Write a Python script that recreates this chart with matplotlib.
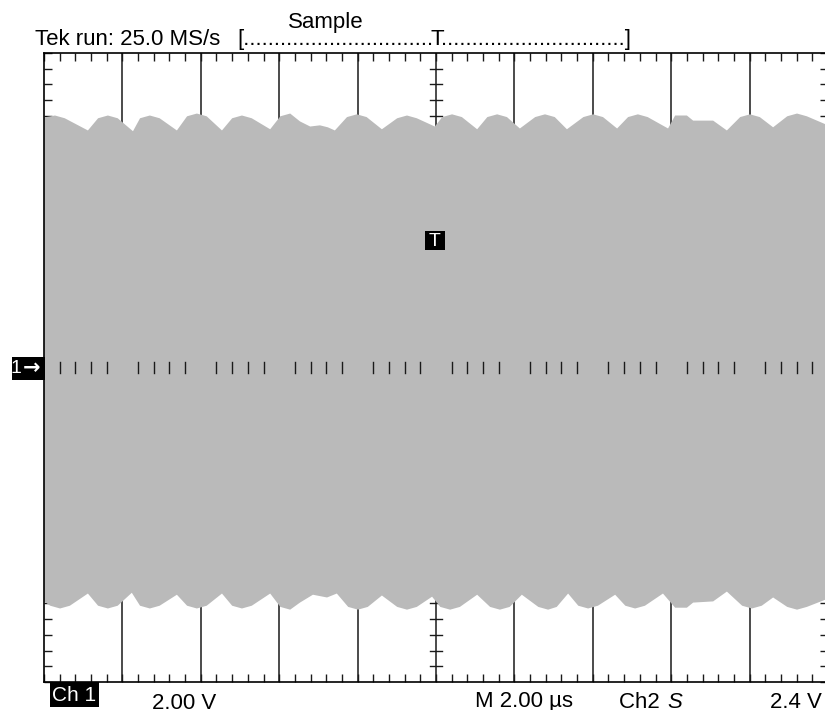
"""
Tela do osciloscopio (Tek) — canal 1 com envoltoria ondulada.

Pontos da envoltoria lidos da imagem: tempo em us a partir da borda
esquerda da tela, tensao em V (2.00 V/div, 2.00 us/div).
"""

import numpy as np
import matplotlib
matplotlib.use("Agg")
import matplotlib.pyplot as plt
from matplotlib.patches import Rectangle

W, H = 825, 710
GRAY = "#bababa"
FONT = ["Liberation Sans", "DejaVu Sans"]

VOLTS_DIV = 2.0       # V/div
TIME_DIV = 2.0        # us/div
N_XDIV, N_YDIV = 10, 8
TRIG_LEVEL = 3.22     # V, marcador "T"

# envoltoria superior (us, V)
t_upper = [0.00, 0.28, 0.53, 1.12, 1.38, 1.63, 1.88, 2.27, 2.45, 2.70,
           2.95, 3.39, 3.65, 3.90, 4.15, 4.54, 4.80, 5.05, 5.30, 5.77,
           6.03, 6.28, 6.53, 6.79, 7.04, 7.24, 7.42, 7.73, 7.98, 8.23,
           8.62, 9.01, 9.26, 9.51, 9.97, 10.16, 10.41, 10.66, 11.05, 11.31,
           11.56, 11.81, 12.14, 12.53, 12.78, 13.03, 13.34, 13.76, 14.01,
           14.26, 14.62, 14.90, 15.15, 15.40, 15.92, 16.10, 16.40, 16.56,
           17.07, 17.42, 17.76, 18.01, 18.26, 18.60, 18.96, 19.21, 19.46,
           20.00]
v_upper = [6.36, 6.41, 6.34, 6.03, 6.34, 6.41, 6.34, 6.01, 6.34, 6.41,
           6.34, 6.03, 6.39, 6.46, 6.39, 6.03, 6.34, 6.41, 6.34, 6.06,
           6.39, 6.46, 6.26, 6.13, 6.16, 6.11, 6.03, 6.37, 6.44, 6.37,
           6.06, 6.34, 6.41, 6.34, 6.13, 6.37, 6.44, 6.37, 6.06, 6.37,
           6.44, 6.37, 6.08, 6.37, 6.44, 6.37, 6.06, 6.37, 6.44,
           6.37, 6.08, 6.37, 6.44, 6.37, 6.08, 6.41, 6.41, 6.28,
           6.28, 6.03, 6.37, 6.44, 6.37, 6.11, 6.39, 6.46, 6.39,
           6.16]

# envoltoria inferior (us, V)
t_lower = [0.00, 0.16, 0.41, 0.66, 1.12, 1.38, 1.63, 1.88, 2.24, 2.45,
           2.70, 2.95, 3.39, 3.65, 3.90, 4.15, 4.54, 4.80, 5.05, 5.30,
           5.77, 6.03, 6.28, 6.53, 6.86, 7.22, 7.47, 7.76, 8.01, 8.26,
           8.62, 9.01, 9.26, 9.51, 9.90, 10.11, 10.36, 10.61, 11.05, 11.38,
           11.63, 11.88, 12.19, 12.61, 12.86, 13.08, 13.37, 13.63, 13.88,
           14.13, 14.57, 14.83, 15.08, 15.33, 15.79, 16.10, 16.40, 16.56,
           17.07, 17.42, 17.81, 18.06, 18.31, 18.60, 18.96, 19.21, 19.46,
           20.00]
v_lower = [-5.95, -6.06, -6.13, -6.06, -5.75, -6.06, -6.13, -6.06, -5.73,
           -6.06, -6.13, -6.06, -5.78, -6.06, -6.13, -6.06, -5.75, -6.06,
           -6.13, -6.06, -5.75, -6.09, -6.16, -5.98, -5.78, -5.85, -5.75,
           -6.09, -6.16, -6.09, -5.80, -6.09, -6.16, -6.09, -5.83, -6.09,
           -6.16, -6.09, -5.78, -6.09, -6.16, -6.09, -5.78, -6.09, -6.16,
           -6.09, -5.75, -6.06, -6.13, -6.06, -5.78, -6.06, -6.13, -6.06,
           -5.75, -6.11, -6.11, -5.98, -5.95, -5.70, -6.06, -6.13, -6.06,
           -5.85, -6.09, -6.16, -6.09, -5.88]


def fx(px):
    return px / W


def fy(py):
    return 1 - py / H


def fig_box(fig, x0, y0, x1, y1):
    fig.add_artist(Rectangle((fx(x0), fy(y1)), fx(x1) - fx(x0),
                             fy(y0) - fy(y1), transform=fig.transFigure,
                             facecolor="black", edgecolor="none"))


def main():
    plt.rcParams["font.family"] = FONT
    fig = plt.figure(figsize=(W / 100, H / 100), dpi=100)
    ax = fig.add_axes([fx(44), fy(682), fx(828) - fx(44), fy(53) - fy(682)])

    xmax = N_XDIV * TIME_DIV
    ymax = N_YDIV / 2 * VOLTS_DIV
    ax.set_xlim(0, xmax)
    ax.set_ylim(-ymax, ymax)

    # graticula: linhas verticais por divisao (abaixo do traco)
    for xv in np.arange(TIME_DIV, xmax, TIME_DIV):
        ax.axvline(xv, color="#1a1a1a", linewidth=1.1, zorder=0.8)

    # marcas do eixo vertical central
    xc = xmax / 2
    for yv in np.arange(-ymax + 0.4, ymax, 0.4):
        ax.plot([xc - 0.15, xc + 0.15], [yv, yv], color="#1a1a1a",
                linewidth=1.0, zorder=0.8)

    # traco (envoltoria)
    t = np.union1d(t_upper, t_lower)
    ax.fill_between(t, np.interp(t, t_lower, v_lower),
                    np.interp(t, t_upper, v_upper),
                    facecolor=GRAY, edgecolor="none", zorder=1)

    # marcas do eixo horizontal central (sobre o traco)
    for xv in np.arange(0.4, xmax, 0.4):
        if abs(xv / TIME_DIV - round(xv / TIME_DIV)) < 1e-6:
            continue
        ax.plot([xv, xv], [-0.15, 0.15], color="#1a1a1a", linewidth=1.0,
                zorder=3)

    # marcador de trigger
    ax.add_patch(Rectangle((xc - 0.27, TRIG_LEVEL - 0.24), 0.49, 0.48,
                           facecolor="black", edgecolor="none", zorder=4))
    ax.text(xc - 0.025, TRIG_LEVEL - 0.01, "T", color="white", fontsize=14,
            ha="center", va="center", zorder=5)

    ax.set_xticks(np.arange(0, xmax + 0.01, TIME_DIV))
    ax.set_yticks(np.arange(-ymax, ymax + 0.01, VOLTS_DIV))
    ax.set_xticks(np.arange(0, xmax + 0.01, 0.4), minor=True)
    ax.set_yticks(np.arange(-ymax, ymax + 0.01, 0.4), minor=True)
    ax.tick_params(which="both", direction="in", length=5.5, width=1.0,
                   top=True, right=True, labelbottom=False, labelleft=False,
                   color="#1a1a1a")
    ax.set_axisbelow(True)
    for sp in ax.spines.values():
        sp.set_linewidth(1.2)
        sp.set_zorder(2.5)

    # cabecalho
    fig.text(fx(35), fy(45), "Tek run: 25.0 MS/s", fontsize=16,
             ha="left", va="baseline")
    fig.text(fx(326), fy(28), "Sample", fontsize=16, ha="center",
             va="baseline")
    fig.text(fx(433), fy(45), "[" + "." * 31, fontsize=16, ha="right",
             va="baseline")
    fig.text(fx(437), fy(45), "T", fontsize=16, ha="center", va="baseline")
    fig.text(fx(441), fy(45), "." * 30 + "]", fontsize=16, ha="left",
             va="baseline")

    # marcador de terra do canal 1
    fig_box(fig, 12, 357, 45, 380)
    fig.text(fx(16), fy(368.5), "1", color="white", fontsize=14,
             ha="center", va="center")
    fig.text(fx(32), fy(368.5), "\u2192", color="white", fontsize=15,
             family="DejaVu Sans", fontweight="bold", ha="center",
             va="center")

    # rodape
    fig_box(fig, 50, 682, 99, 707)
    fig.text(fx(74.5), fy(701), "Ch 1", color="white", fontsize=15,
             ha="center", va="baseline")
    fig.text(fx(152), fy(709), "2.00 V", fontsize=16, ha="left",
             va="baseline")
    fig.text(fx(475), fy(707), "M 2.00 \u00b5s", fontsize=16, ha="left",
             va="baseline")
    fig.text(fx(619), fy(708), "Ch2 ", fontsize=16, ha="left",
             va="baseline")
    fig.text(fx(667), fy(708), "S", fontsize=16, style="italic",
             ha="left", va="baseline")
    fig.text(fx(822), fy(708), "2.4 V", fontsize=16, ha="right",
             va="baseline")

    fig.savefig("out.png", dpi=100)
    plt.close(fig)


if __name__ == "__main__":
    main()
